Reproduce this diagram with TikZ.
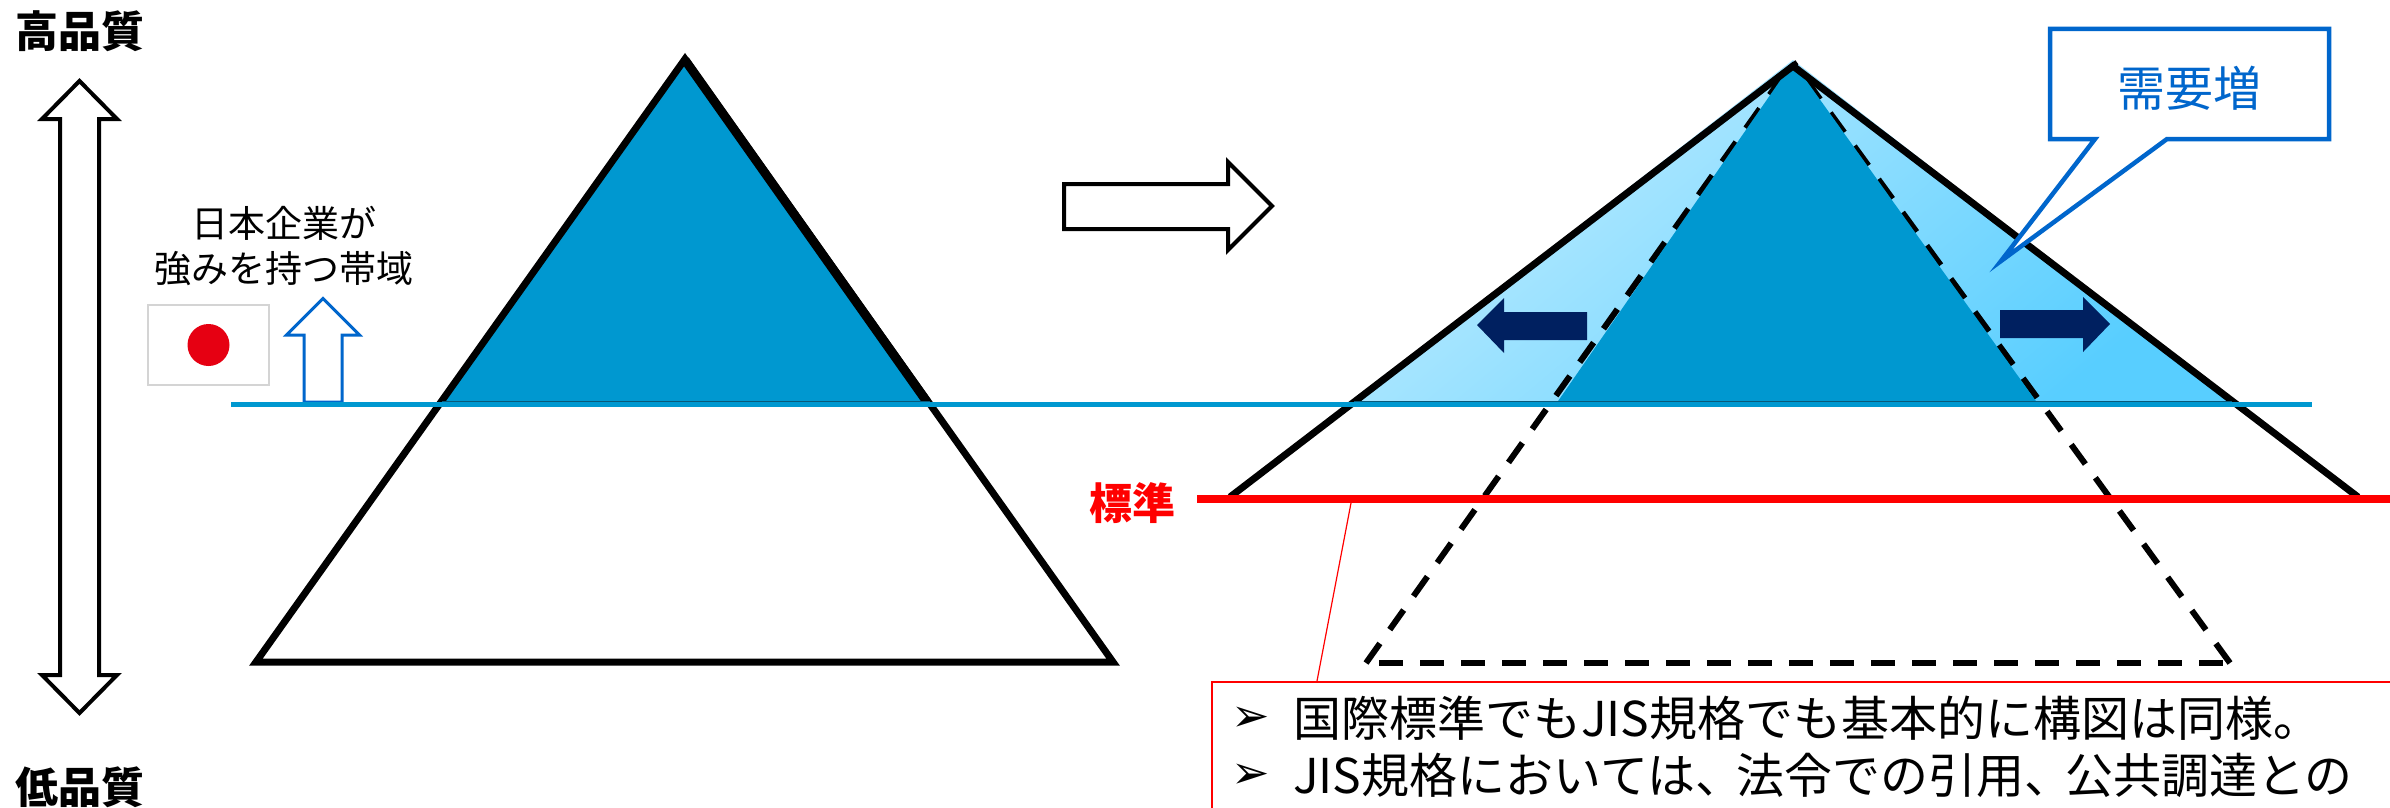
\documentclass[tikz,border=0pt]{standalone}
\usepackage{fontspec}
\setmainfont{Noto Sans CJK JP}
\newfontfamily\symfont{DejaVu Sans}
\usetikzlibrary{shadings}
\definecolor{midblue}{HTML}{0098D0}
\definecolor{calloutblue}{HTML}{0066CC}
\definecolor{navy}{HTML}{002060}
\definecolor{pureRed}{HTML}{FF0000}
\definecolor{flagred}{HTML}{E60012}
\definecolor{flagedge}{HTML}{D4D4D4}
\definecolor{gradtop}{HTML}{BEECFF}
\definecolor{gradbot}{HTML}{58CEFF}
\definecolor{edgedark}{HTML}{0A5A7A}
\tikzset{
  x=1pt,y=-1pt,
  notetext/.style={inner sep=0pt,font=\fontsize{48}{48}\selectfont,text=black},
  boldlabel/.style={inner sep=0pt,font=\fontsize{43}{43}\selectfont\bfseries},
  small37/.style={inner sep=0pt,font=\fontsize{37}{45}\selectfont,align=center},
  pyramid/.style={draw=black,line width=7pt,line join=miter},
  hollowarrow/.style={draw=black,line width=4pt,fill=white,line join=miter},
  dashline/.style={black,line width=6pt,dash pattern=on 24pt off 17pt},
  navyarrow/.style={fill=navy,draw=none},
  bulletmark/.style={inner sep=0pt,font=\symfont\fontsize{46}{46}\selectfont},
}
\begin{document}
\begin{tikzpicture}
\useasboundingbox (0,0) rectangle (2390,808);
\clip (0,0) rectangle (2390,808);
\fill[white] (0,0) rectangle (2390,808);

% left double arrow
\draw[hollowarrow] (79.5,81) -- (117,119) -- (99,119) -- (99,675) -- (117,675) -- (79.5,713) -- (42,675) -- (60,675) -- (60,119) -- (42,119) -- cycle;
\node[boldlabel] (hi) at (80,31) {高品質};
\node[boldlabel] (lo) at (80,787) {低品質};

% left label, flag, blue arrow
\node[small37] (jp) at (284,246) {日本企業が\\強みを持つ帯域};
\draw[flagedge,line width=2pt,fill=white] (148,305) rectangle (269,385);
\fill[flagred] (208.5,345) circle (21);
\draw[calloutblue,line width=3pt,fill=white,line join=miter] (323,298.5) -- (359.5,335) -- (342,335) -- (342,402) -- (304,402) -- (304,335) -- (286.5,335) -- cycle;

% left pyramid
\fill[midblue] (685,59) -- (930,404) -- (442,404) -- cycle;
\draw[pyramid] (685,59) -- (1113,662) -- (256,662) -- cycle;
\draw[black,line width=9pt,line cap=butt] (685,60) -- (927,402);
\draw[edgedark,line width=1pt] (442,401) -- (930,401);

% big arrow
\draw[hollowarrow] (1272,206) -- (1228,250) -- (1228,229) -- (1064,229) -- (1064,184) -- (1228,184) -- (1228,162) -- cycle;

% right pyramid
\shade[shading=axis,top color=gradtop,bottom color=gradbot,shading angle=40]
  (1793,60) -- (2236,404) -- (1350,404) -- cycle;
\draw[dashline] (1366,663) -- (1793,62);
\draw[dashline] (2230,663) -- (1793,62);
\draw[dashline] (1379,663) -- (2229,663);
\fill[midblue] (1793,62) -- (2038,404) -- (1556,404) -- cycle;
\draw[black,line width=7pt,line join=miter] (1230,497) -- (1793,66) -- (2358,497);
\draw[edgedark,line width=1pt] (1354,401) -- (2232,401);

% horizontal lines
\coordinate (blueL) at (231,404.5);
\coordinate (blueR) at (2312,404.5);
\draw[midblue,line width=5.5pt] (blueL) -- (blueR);
\coordinate (redL) at (1197,499);
\coordinate (redR) at (2390,499);
\draw[pureRed,line width=8pt] (redL) -- (redR);
\node[boldlabel,text=pureRed] (std) at (1132,503) {標準};

% navy arrows
\fill[navyarrow] (1477,325) -- (1504,298) -- (1504,312) -- (1587,312) -- (1587,340) -- (1504,340) -- (1504,353) -- cycle;
\fill[navyarrow] (2110,324) -- (2083,297) -- (2083,310) -- (2000,310) -- (2000,338) -- (2083,338) -- (2083,352) -- cycle;

% callout
\draw[calloutblue,line width=4.5pt,fill=white,line join=miter,miter limit=30] (2050,29) -- (2329,29) -- (2329,139) -- (2167,139) -- (2001,261) -- (2095,139) -- (2050,139) -- cycle;
\node[inner sep=0pt,text=calloutblue,font=\fontsize{48}{48}\selectfont] (dem) at (2189,88) {需要増};

% note box
\draw[pureRed,line width=2.5pt,fill=white] (1212,682) rectangle (2420,850);
\coordinate (leadA) at (1351,503);
\coordinate (leadB) at (1317,681);
\draw[pureRed,line width=1.2pt] (leadA) -- (leadB);
\node[bulletmark] (b1) at (1251,719) {➢};
\node[bulletmark] (b2) at (1251,776) {➢};
\node[notetext,anchor=west] (l1) at (1293,718) {国際標準でもJIS規格でも基本的に構図は同様。};
\node[notetext,anchor=west] (l2) at (1293,775) {JIS規格においては、\kern-7pt 法令での引用、\kern-7pt 公共調達との};
\end{tikzpicture}
\end{document}
